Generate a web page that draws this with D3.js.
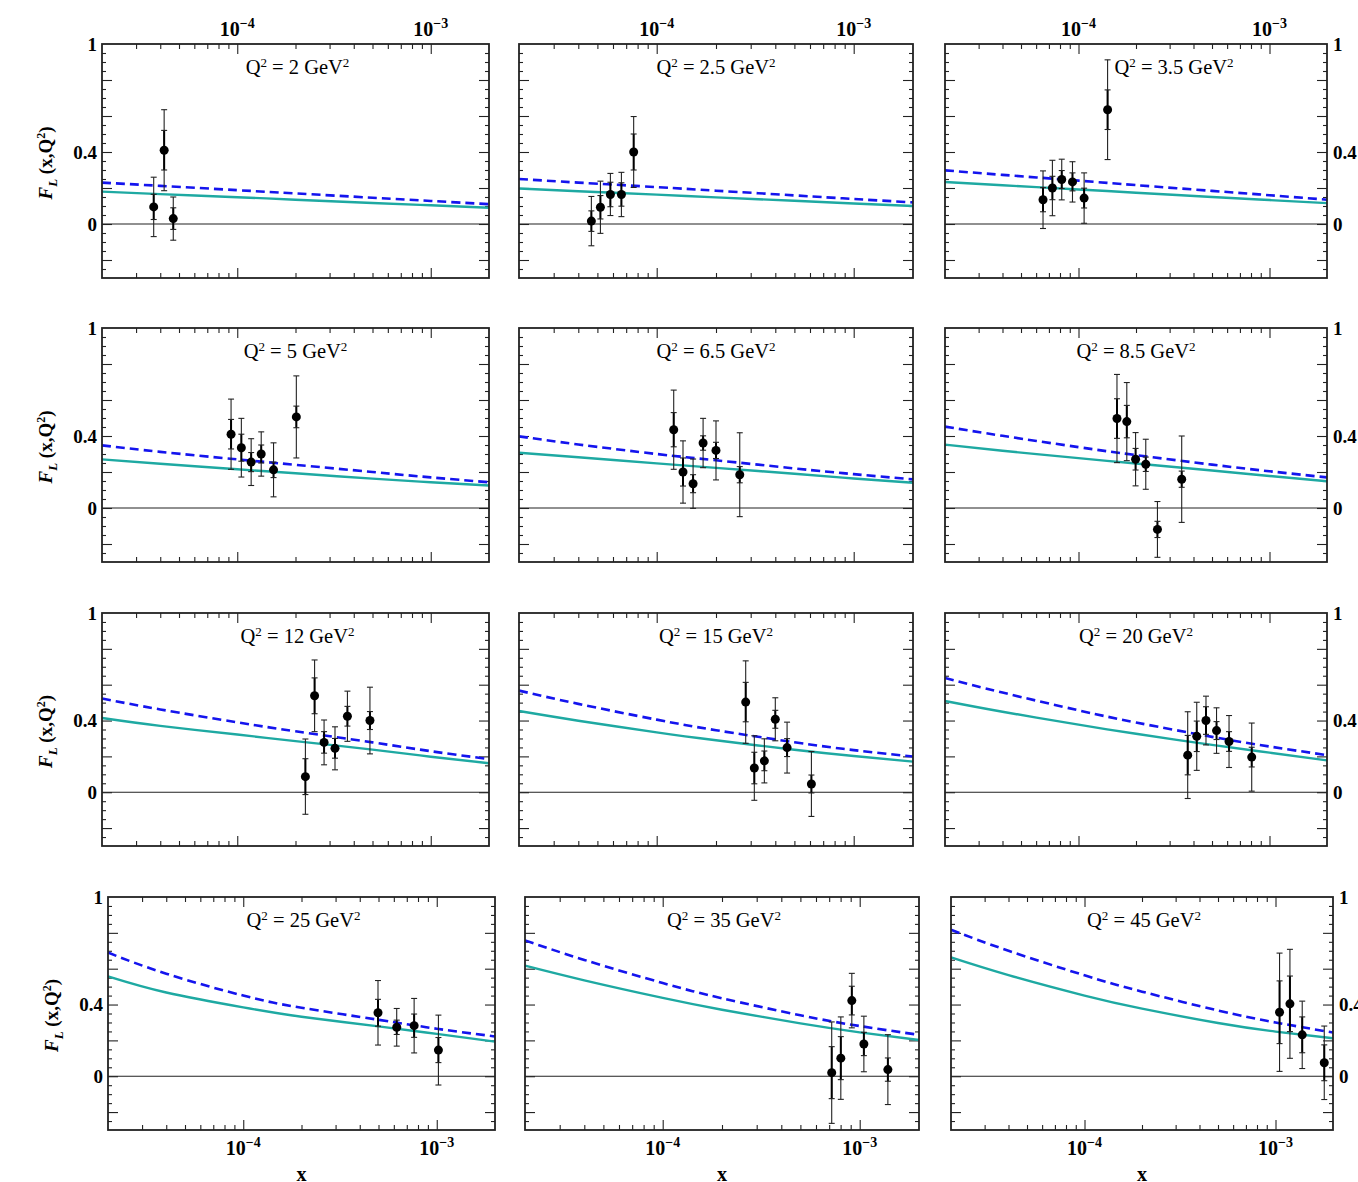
<!DOCTYPE html>
<html>
<head>
<meta charset="utf-8">
<script src="https://cdn.jsdelivr.net/npm/d3@7"></script>
<style>
  body { margin: 0; background: #fff; }
  text { font-family: "Liberation Serif", "DejaVu Serif", serif; fill: #000; }
</style>
</head>
<body>
<script>
// Q^2 of each panel (GeV^2)
var Q2 = [2, 2.5, 3.5, 5, 6.5, 8.5, 12, 15, 20, 25, 35, 45];

// data points: x, F_L, stat error, total error
var dataX = [
  [3.7e-5, 4.19e-5, 4.67e-5],
  [4.66e-5, 5.18e-5, 5.82e-5, 6.62e-5, 7.64e-5],
  [6.52e-5, 7.3e-5, 8.17e-5, 9.3e-5, 1.07e-4, 1.42e-4],
  [9.29e-5, 1.05e-4, 1.18e-4, 1.33e-4, 1.54e-4, 2.02e-4],
  [1.22e-4, 1.36e-4, 1.53e-4, 1.72e-4, 2.0e-4, 2.64e-4],
  [1.59e-4, 1.79e-4, 1.99e-4, 2.25e-4, 2.59e-4, 3.47e-4],
  [2.25e-4, 2.51e-4, 2.81e-4, 3.2e-4, 3.71e-4, 4.85e-4],
  [2.83e-4, 3.13e-4, 3.52e-4, 4.0e-4, 4.59e-4, 6.1e-4],
  [3.73e-4, 4.16e-4, 4.65e-4, 5.28e-4, 6.14e-4, 8.07e-4],
  [4.97e-4, 6.21e-4, 7.64e-4, 1.02e-3],
  [7.21e-4, 8.02e-4, 9.12e-4, 1.05e-3, 1.39e-3],
  [1.05e-3, 1.19e-3, 1.38e-3, 1.8e-3]
];
var dataY = [
  [0.095, 0.41, 0.03],
  [0.016, 0.093, 0.164, 0.164, 0.40],
  [0.135, 0.2, 0.247, 0.234, 0.144, 0.635],
  [0.41, 0.335, 0.255, 0.30, 0.212, 0.506],
  [0.435, 0.2, 0.135, 0.361, 0.32, 0.185],
  [0.497, 0.48, 0.271, 0.243, -0.119, 0.16],
  [0.087, 0.538, 0.278, 0.245, 0.424, 0.40],
  [0.503, 0.135, 0.175, 0.407, 0.249, 0.046],
  [0.207, 0.312, 0.40, 0.344, 0.283, 0.196],
  [0.354, 0.273, 0.282, 0.146],
  [0.02, 0.101, 0.422, 0.18, 0.037],
  [0.357, 0.404, 0.231, 0.075]
];
var dataStat = [
  [0.07, 0.11, 0.06],
  [0.057, 0.065, 0.068, 0.065, 0.1],
  [0.067, 0.065, 0.05, 0.05, 0.055, 0.11],
  [0.082, 0.075, 0.053, 0.05, 0.043, 0.06],
  [0.095, 0.078, 0.05, 0.04, 0.045, 0.045],
  [0.11, 0.09, 0.06, 0.04, 0.045, 0.045],
  [0.1, 0.1, 0.06, 0.055, 0.055, 0.05],
  [0.11, 0.088, 0.055, 0.05, 0.05, 0.05],
  [0.11, 0.085, 0.077, 0.05, 0.055, 0.055],
  [0.075, 0.04, 0.065, 0.07],
  [0.145, 0.12, 0.08, 0.065, 0.065],
  [0.175, 0.155, 0.1, 0.1]
];
var dataTot = [
  [0.165, 0.225, 0.12],
  [0.137, 0.145, 0.117, 0.123, 0.197],
  [0.16, 0.154, 0.113, 0.112, 0.14, 0.277],
  [0.195, 0.163, 0.13, 0.123, 0.15, 0.228],
  [0.22, 0.173, 0.137, 0.137, 0.164, 0.233],
  [0.245, 0.217, 0.148, 0.139, 0.155, 0.24],
  [0.21, 0.2, 0.125, 0.12, 0.14, 0.186],
  [0.23, 0.18, 0.123, 0.12, 0.142, 0.181],
  [0.242, 0.19, 0.136, 0.127, 0.145, 0.19],
  [0.18, 0.105, 0.152, 0.195],
  [0.283, 0.23, 0.152, 0.155, 0.195],
  [0.33, 0.304, 0.188, 0.205]
];

var curveX = [2e-5, 4e-5, 1e-4, 2e-4, 5e-4, 1e-3, 2e-3];
var dashedCurves = [
  [0.23, 0.212, 0.188, 0.17, 0.146, 0.128, 0.11],
  [0.25, 0.23, 0.205, 0.185, 0.159, 0.139, 0.12],
  [0.298, 0.273, 0.241, 0.216, 0.184, 0.16, 0.135],
  [0.348, 0.312, 0.27, 0.24, 0.2, 0.17, 0.143],
  [0.398, 0.353, 0.30, 0.265, 0.22, 0.188, 0.159],
  [0.452, 0.401, 0.338, 0.294, 0.241, 0.204, 0.17],
  [0.523, 0.462, 0.39, 0.34, 0.278, 0.229, 0.185],
  [0.567, 0.493, 0.405, 0.346, 0.279, 0.235, 0.199],
  [0.638, 0.556, 0.457, 0.389, 0.309, 0.255, 0.207],
  [0.69, 0.572, 0.45, 0.382, 0.315, 0.265, 0.222],
  [0.758, 0.649, 0.52, 0.435, 0.34, 0.28, 0.231],
  [0.817, 0.70, 0.563, 0.472, 0.367, 0.30, 0.244]
];
var solidCurves = [
  [0.18, 0.166, 0.149, 0.135, 0.117, 0.104, 0.09],
  [0.197, 0.182, 0.163, 0.148, 0.129, 0.114, 0.10],
  [0.233, 0.215, 0.192, 0.174, 0.15, 0.133, 0.116],
  [0.27, 0.246, 0.215, 0.193, 0.163, 0.143, 0.125],
  [0.307, 0.282, 0.248, 0.223, 0.19, 0.164, 0.14],
  [0.352, 0.318, 0.277, 0.247, 0.208, 0.178, 0.149],
  [0.414, 0.37, 0.322, 0.285, 0.238, 0.198, 0.162],
  [0.453, 0.399, 0.334, 0.29, 0.237, 0.202, 0.171],
  [0.509, 0.449, 0.377, 0.326, 0.264, 0.221, 0.178],
  [0.557, 0.467, 0.384, 0.332, 0.278, 0.236, 0.193],
  [0.617, 0.535, 0.437, 0.371, 0.295, 0.245, 0.202],
  [0.663, 0.564, 0.45, 0.377, 0.297, 0.249, 0.212]
];

var xDomain = [2e-5, 2e-3],
    yDomain = [-0.3, 1],
    xMajor = [1e-4, 1e-3],
    xMajorExp = ["\u22124", "\u22123"],
    yLabels = [1, 0.4, 0];

// panel frames
var colLeft = [102, 519, 945], colWidth = [387, 394, 382];
var rowTop = [44, 328, 613, 897], rowHeight = [234, 234, 233, 233];
var rowShift = [0, 0, 0, 6];
var titleShift = [2, 0, 38, 0, 0, 0, 2, 0, 0, 2, 2, 2];

var svg = d3.select("body").append("svg")
    .attr("width", 1358)
    .attr("height", 1182);

Q2.forEach(function(q, i) {
  var r = Math.floor(i / 3), c = i % 3;
  var w = colWidth[c], h = rowHeight[r];
  var g = svg.append("g")
      .attr("transform", "translate(" + (colLeft[c] + rowShift[r]) + "," + rowTop[r] + ")");

  var x = d3.scaleLog().domain(xDomain).range([0, w]);
  var y = d3.scaleLinear().domain(yDomain).range([h, 0]);

  var xMinor = x.ticks().filter(function(t) {
    return xMajor.every(function(m) { return Math.abs(t - m) / m > 1e-6; }) &&
      t > xDomain[0] * 1.001 && t < xDomain[1] * 0.999;
  });
  var yMajor = d3.range(-0.2, 0.99, 0.2);
  var yMinor = d3.range(-0.25, 1, 0.05).filter(function(v) {
    return Math.abs(Math.round(v * 5) - v * 5) > 1e-6;
  });

  function ticks(axis, tr) {
    g.append("g").attr("transform", tr)
      .call(axis.tickFormat(""))
      .call(function(s) {
        s.select(".domain").remove();
        s.selectAll("line").attr("stroke", "#222").attr("stroke-width", 1.1);
      });
  }
  // inward ticks on all four sides
  ticks(d3.axisBottom(x).tickValues(xMajor).tickSize(10), "translate(0,0)");
  ticks(d3.axisBottom(x).tickValues(xMinor).tickSize(5), "translate(0,0)");
  ticks(d3.axisTop(x).tickValues(xMajor).tickSize(10), "translate(0," + h + ")");
  ticks(d3.axisTop(x).tickValues(xMinor).tickSize(5), "translate(0," + h + ")");
  ticks(d3.axisRight(y).tickValues(yMajor).tickSize(10), "translate(0,0)");
  ticks(d3.axisRight(y).tickValues(yMinor).tickSize(4), "translate(0,0)");
  ticks(d3.axisLeft(y).tickValues(yMajor).tickSize(10), "translate(" + w + ",0)");
  ticks(d3.axisLeft(y).tickValues(yMinor).tickSize(4), "translate(" + w + ",0)");

  // zero line
  g.append("line")
    .attr("x1", 0).attr("x2", w)
    .attr("y1", y(0)).attr("y2", y(0))
    .attr("stroke", "#222").attr("stroke-width", 1.1);

  var line = d3.line()
    .x(function(d) { return x(d[0]); })
    .y(function(d) { return y(d[1]); })
    .curve(d3.curveNatural);

  g.append("path")
    .datum(d3.zip(curveX, solidCurves[i]))
    .attr("d", line)
    .attr("fill", "none")
    .attr("stroke", "#1ea9a2")
    .attr("stroke-width", 2.4);

  g.append("path")
    .datum(d3.zip(curveX, dashedCurves[i]))
    .attr("d", line)
    .attr("fill", "none")
    .attr("stroke", "#1414ee")
    .attr("stroke-width", 2.6)
    .attr("stroke-dasharray", "9,5");

  // error bars
  var pts = dataX[i].map(function(xv, k) {
    return { x: xv, y: dataY[i][k], s: dataStat[i][k], t: dataTot[i][k] };
  });
  var eb = g.selectAll(".pt").data(pts).enter().append("g").attr("class", "pt");
  eb.append("line")
    .attr("x1", function(d) { return x(d.x); })
    .attr("x2", function(d) { return x(d.x); })
    .attr("y1", function(d) { return y(d.y + d.t); })
    .attr("y2", function(d) { return y(d.y - d.t); })
    .attr("stroke", "#222").attr("stroke-width", 1.1);
  eb.append("line")
    .attr("x1", function(d) { return x(d.x); })
    .attr("x2", function(d) { return x(d.x); })
    .attr("y1", function(d) { return y(d.y + d.s); })
    .attr("y2", function(d) { return y(d.y - d.s); })
    .attr("stroke", "#000").attr("stroke-width", 2);
  [function(d) { return d.y + d.t; }, function(d) { return d.y - d.t; },
   function(d) { return d.y + d.s; }, function(d) { return d.y - d.s; }].forEach(function(f) {
    eb.append("line")
      .attr("x1", function(d) { return x(d.x) - 3; })
      .attr("x2", function(d) { return x(d.x) + 3; })
      .attr("y1", function(d) { return y(f(d)); })
      .attr("y2", function(d) { return y(f(d)); })
      .attr("stroke", "#222").attr("stroke-width", 1.1);
  });
  eb.append("circle")
    .attr("cx", function(d) { return x(d.x); })
    .attr("cy", function(d) { return y(d.y); })
    .attr("r", 4.5)
    .attr("fill", "#000");

  // frame
  g.append("rect")
    .attr("width", w).attr("height", h)
    .attr("fill", "none")
    .attr("stroke", "#222").attr("stroke-width", 1.8);

  // title
  var title = g.append("text")
    .attr("x", w / 2 + titleShift[i]).attr("y", 30)
    .attr("text-anchor", "middle")
    .style("font-size", "20.5px");
  title.append("tspan").text("Q");
  title.append("tspan").attr("dy", -7).style("font-size", "13px").text("2");
  title.append("tspan").attr("dy", 7).text(" = " + q + " GeV");
  title.append("tspan").attr("dy", -7).style("font-size", "13px").text("2");

  // y tick labels
  if (c === 0 || c === 2) {
    g.selectAll(".ylab").data(yLabels).enter().append("text")
      .attr("x", c === 0 ? -5 : w + 6)
      .attr("y", function(d) { return y(d); })
      .attr("dy", "0.35em")
      .attr("text-anchor", c === 0 ? "end" : "start")
      .style("font-size", "19px").style("font-weight", "bold")
      .text(function(d) { return d; });
  }

  // y axis title
  if (c === 0) {
    var yt = g.append("text")
      .attr("transform", "translate(-50," + (h / 2 + 2) + ") rotate(-90)")
      .attr("text-anchor", "middle")
      .style("font-size", "19px").style("font-weight", "bold");
    yt.append("tspan").style("font-style", "italic").text("F");
    yt.append("tspan").style("font-style", "italic").style("font-size", "13px").attr("dy", 5).text("L");
    yt.append("tspan").attr("dy", -5).text(" (x,Q");
    yt.append("tspan").style("font-size", "12px").attr("dy", -7).text("2");
    yt.append("tspan").attr("dy", 7).text(")");
  }

  // x tick labels on top and bottom rows
  function xLabels(yPos) {
    xMajor.forEach(function(m, k) {
      var t = g.append("text")
        .attr("x", x(m)).attr("y", yPos)
        .attr("text-anchor", "middle")
        .style("font-size", "20px").style("font-weight", "bold");
      t.append("tspan").text("10");
      t.append("tspan").attr("dy", -8).style("font-size", "14px").text(xMajorExp[k]);
    });
  }
  if (r === 0) xLabels(-8);
  if (r === 3) {
    xLabels(h + 25);
    g.append("text")
      .attr("x", w / 2).attr("y", h + 51)
      .attr("text-anchor", "middle")
      .style("font-size", "20px").style("font-weight", "bold")
      .text("x");
  }
});
</script>
</body>
</html>
